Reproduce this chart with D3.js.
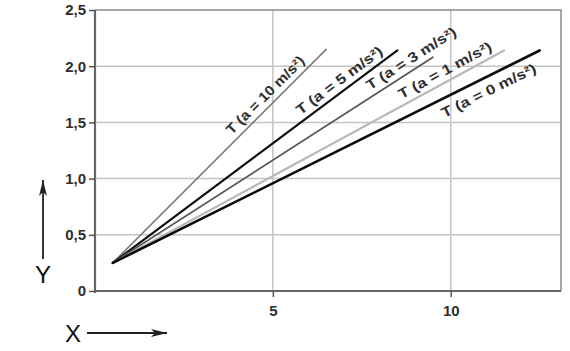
<!DOCTYPE html>
<html>
<head>
<meta charset="utf-8">
<script src="https://cdn.jsdelivr.net/npm/d3@7"></script>
<style>
  html, body { margin: 0; padding: 0; background: #fff; }
  svg { display: block; }
  text { font-family: "Liberation Sans", Arial, Helvetica, sans-serif; }
</style>
</head>
<body>
<svg id="chart" width="570" height="351"></svg>
<script>
// ---- data ----
const seriesNames = ["T (a = 10 m/s²)", "T (a = 5 m/s²)", "T (a = 3 m/s²)", "T (a = 1 m/s²)", "T (a = 0 m/s²)"];
const startX = [0.5, 0.5, 0.5, 0.5, 0.5];
const startY = [0.25, 0.25, 0.25, 0.25, 0.25];
const endX = [6.5, 8.5, 9.5, 11.5, 12.5];
const endY = [2.15, 2.14, 2.08, 2.14, 2.14];
const xTicks = [5, 10];
const yTicks = [0, 0.5, 1.0, 1.5, 2.0, 2.5];
const yTickLabels = ["0", "0,5", "1,0", "1,5", "2,0", "2,5"];
const xTickLabels = ["5", "10"];

// ---- styles / layout ----
const colors = ["#7a7a7a", "#111111", "#555555", "#b8b8b8", "#0a0a0a"];
const widths = [1.6, 2.2, 1.7, 2.2, 2.6];
const labelAt = [5.0, 7.05, 9.05, 9.98, 10.9]; // x along line where label is centred
const labelSide = [1, 1, 1, 1, -1];

const svg = d3.select("#chart");
const x = d3.scaleLinear().domain([0, 13.1]).range([95, 561]);
const y = d3.scaleLinear().domain([0, 2.5]).range([291, 10]);

// grid
svg.append("g").selectAll("line.h").data(yTicks.filter(d => d > 0 && d < 2.5)).join("line")
  .attr("x1", x(0)).attr("x2", x(13.1)).attr("y1", d => y(d)).attr("y2", d => y(d))
  .attr("stroke", "#c4c4c4").attr("stroke-width", 1.5);
svg.append("g").selectAll("line.v").data(xTicks).join("line")
  .attr("x1", d => x(d)).attr("x2", d => x(d)).attr("y1", y(0)).attr("y2", y(2.5))
  .attr("stroke", "#c4c4c4").attr("stroke-width", 1.5);

// frame top/right
svg.append("path")
  .attr("d", `M${x(0)},${y(2.5)}H${x(13.1)}V${y(0)}`)
  .attr("fill", "none").attr("stroke", "#8a8a8a").attr("stroke-width", 1.5);

// axes
const yAxis = d3.axisLeft(y).tickValues(yTicks).tickFormat((d, i) => yTickLabels[i]).tickSize(6).tickPadding(3);
const gy = svg.append("g").attr("transform", `translate(${x(0)},0)`).call(yAxis);
const xAxis = d3.axisBottom(x).tickValues(xTicks).tickFormat((d, i) => xTickLabels[i]).tickSize(6).tickPadding(8);
const gx = svg.append("g").attr("transform", `translate(0,${y(0)})`).call(xAxis);
[gx, gy].forEach(g => {
  g.select(".domain").attr("stroke", "#666").attr("stroke-width", 2.2);
  g.selectAll(".tick line").attr("stroke", "#555").attr("stroke-width", 1.5);
  g.selectAll(".tick text").attr("fill", "#2e2e2e").attr("font-size", 15).attr("font-weight", "bold")
    .style("font-family", "'Liberation Sans', Arial, sans-serif");
});
gy.select(".domain").attr("d", `M-0,${y(0)+2}V${y(2.5)}`);
gx.select(".domain").attr("d", `M${x(0)},0H${x(13.1)}`);

// series lines
const line = d3.line().x(d => x(d[0])).y(d => y(d[1]));
seriesNames.forEach((name, i) => {
  svg.append("path")
    .datum([[startX[i], startY[i]], [endX[i], endY[i]]])
    .attr("d", line)
    .attr("fill", "none").attr("stroke", colors[i]).attr("stroke-width", widths[i])
    .attr("stroke-linecap", "round");
  const x0 = x(startX[i]), y0 = y(startY[i]), x1 = x(endX[i]), y1 = y(endY[i]);
  const ang = Math.atan2(y1 - y0, x1 - x0);
  const px = x(labelAt[i]);
  const py = y0 + (px - x0) * (y1 - y0) / (x1 - x0);
  const dy = labelSide[i] > 0 ? -6 : 18;
  svg.append("text")
    .attr("transform", `translate(${px},${py}) rotate(${ang * 180 / Math.PI})`)
    .attr("text-anchor", "middle").attr("y", dy)
    .attr("font-size", 14).attr("font-weight", "bold").attr("fill", "#2e2e2e")
    .attr("textLength", 104).attr("lengthAdjust", "spacingAndGlyphs")
    .text(name);
});

// axis name arrows
const defs = svg.append("defs");
defs.append("marker").attr("id", "arr").attr("viewBox", "0 0 16 8").attr("refX", 16).attr("refY", 4)
  .attr("markerWidth", 16).attr("markerHeight", 8).attr("markerUnits", "userSpaceOnUse").attr("orient", "auto")
  .append("path").attr("d", "M0,0L16,4L0,8L4,4Z").attr("fill", "#222");
svg.append("line").attr("x1", 43).attr("y1", 259).attr("x2", 43).attr("y2", 180)
  .attr("stroke", "#222").attr("stroke-width", 1.8).attr("marker-end", "url(#arr)");
svg.append("line").attr("x1", 87).attr("y1", 333).attr("x2", 167).attr("y2", 333)
  .attr("stroke", "#222").attr("stroke-width", 1.8).attr("marker-end", "url(#arr)");
svg.append("text").attr("x", 43).attr("y", 283).attr("text-anchor", "middle")
  .attr("font-size", 24).attr("fill", "#111").text("Y");
svg.append("text").attr("x", 73).attr("y", 342).attr("text-anchor", "middle")
  .attr("font-size", 24).attr("fill", "#111").text("X");
</script>
</body>
</html>
